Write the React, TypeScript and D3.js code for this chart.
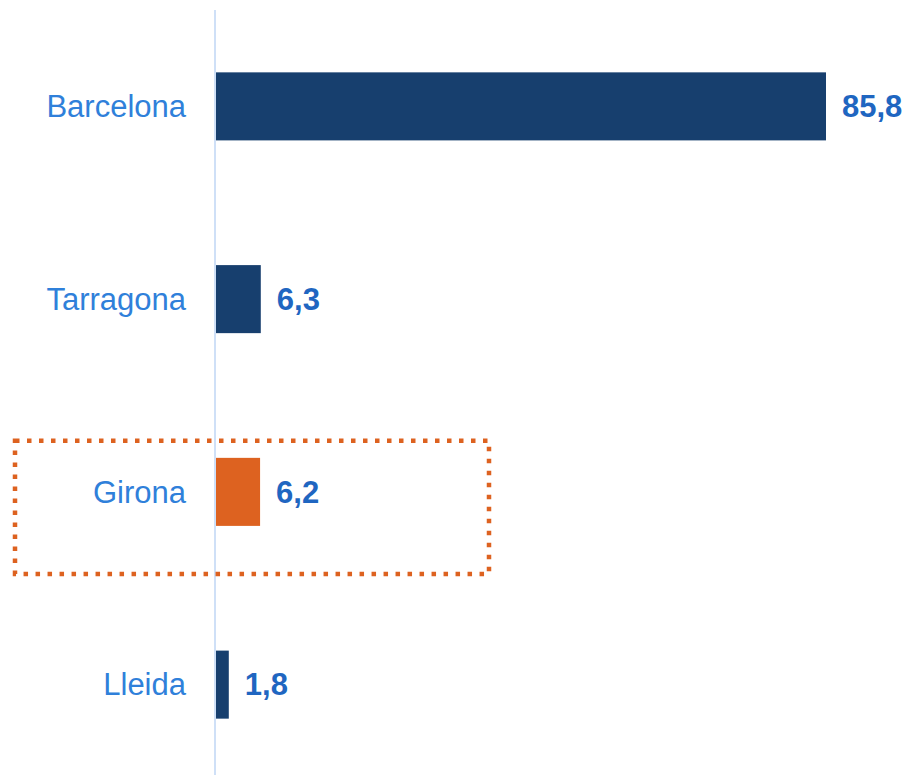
import * as d3 from "d3";
import { useEffect, useRef } from "react";

const provinces = ["Barcelona", "Tarragona", "Girona", "Lleida"];
const shares = [85.8, 6.3, 6.2, 1.8];
const highlighted = "Girona";

const navy = "#173F6E";
const orange = "#DD6220";
const labelBlue = "#2F80DA";
const valueBlue = "#1F66C1";
const axisBlue = "#CFE0F7";

const App = () => {
  const svgRef = useRef<SVGSVGElement | null>(null);

  useEffect(() => {
    if (!svgRef.current) return;

    const width = 910;
    const height = 775;
    const data = provinces.map((p, i) => ({ name: p, value: shares[i] }));

    const xScale = d3
      .scaleLinear()
      .domain([0, d3.max(shares) ?? 0])
      .range([216, 826]);

    const yScale = d3
      .scaleBand<string>()
      .domain(provinces)
      .range([10, 781])
      .paddingInner(0.647)
      .paddingOuter(0.3235);

    const svg = d3.select(svgRef.current);
    svg.selectAll("*").remove();

    // vertical baseline
    svg
      .append("line")
      .attr("x1", 215)
      .attr("x2", 215)
      .attr("y1", 10)
      .attr("y2", height)
      .attr("stroke", axisBlue)
      .attr("stroke-width", 2);

    // bars
    svg
      .append("g")
      .selectAll("rect")
      .data(data)
      .join("rect")
      .attr("x", xScale(0))
      .attr("y", (d) => yScale(d.name) ?? 0)
      .attr("width", (d) => xScale(d.value) - xScale(0))
      .attr("height", yScale.bandwidth())
      .attr("fill", (d) => (d.name === highlighted ? orange : navy));

    // category labels
    svg
      .append("g")
      .selectAll("text")
      .data(data)
      .join("text")
      .attr("x", 186)
      .attr("y", (d) => (yScale(d.name) ?? 0) + yScale.bandwidth() / 2)
      .attr("dy", "0.35em")
      .attr("text-anchor", "end")
      .attr("font-family", "'Liberation Sans', Arial, sans-serif")
      .attr("font-size", 31)
      .attr("fill", labelBlue)
      .text((d) => d.name);

    // value labels
    svg
      .append("g")
      .selectAll("text")
      .data(data)
      .join("text")
      .attr("x", (d) => xScale(d.value) + 16)
      .attr("y", (d) => (yScale(d.name) ?? 0) + yScale.bandwidth() / 2)
      .attr("dy", "0.35em")
      .attr("font-family", "'Liberation Sans', Arial, sans-serif")
      .attr("font-weight", "bold")
      .attr("font-size", 31)
      .attr("fill", valueBlue)
      .text((d) => d3.format(".1f")(d.value).replace(".", ","));

    // dotted highlight box around Girona
    const hy = yScale(highlighted) ?? 0;
    svg
      .append("rect")
      .attr("x", 15)
      .attr("y", hy - 17)
      .attr("width", 474)
      .attr("height", yScale.bandwidth() + 65)
      .attr("fill", "none")
      .attr("stroke", orange)
      .attr("stroke-width", 4.5)
      .attr("stroke-dasharray", "4.5 7.5");

    svg.attr("viewBox", `0 0 ${width} ${height}`);
  }, []);

  return (
    <svg
      ref={svgRef}
      width={910}
      height={775}
      style={{ position: "absolute", left: 0, top: 0, background: "#fff" }}
    ></svg>
  );
};

export default App;
